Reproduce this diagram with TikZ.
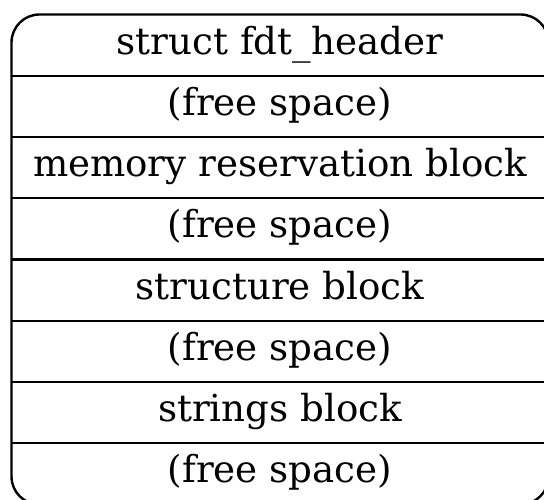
\documentclass[tikz,border=0pt]{standalone}
\usepackage{fontspec}
\setmainfont{DejaVu Serif}
\begin{document}
\begin{tikzpicture}[x=1pt,y=1pt,
  rowtext/.style={anchor=base,inner sep=0pt,font=\fontsize{37.2}{42}\selectfont},
  frame/.style={line width=2.4pt,rounded corners=28pt},
  divider/.style={line width=2.4pt}]
\useasboundingbox (0,0) rectangle (544,500);
\begin{scope}
\clip (0,0) rectangle (544,500);
\draw[frame] (11.5,-4.5) rectangle (548.5,485.5);
\foreach \k in {1,...,7} {
  \draw[divider] (11.5,{485.5-61.25*\k}) -- (548.5,{485.5-61.25*\k});
}
\end{scope}
\foreach \name/\txt [count=\i from 0] in {r0/struct fdt\_header,r1/(free space),r2/memory reservation block,r3/(free space),r4/structure block,r5/(free space),r6/strings block,r7/(free space)} {
  \node[rowtext] (\name) at (280,{485.5-61.25*\i-30.6-9}) {\txt};
}
\end{tikzpicture}
\end{document}
